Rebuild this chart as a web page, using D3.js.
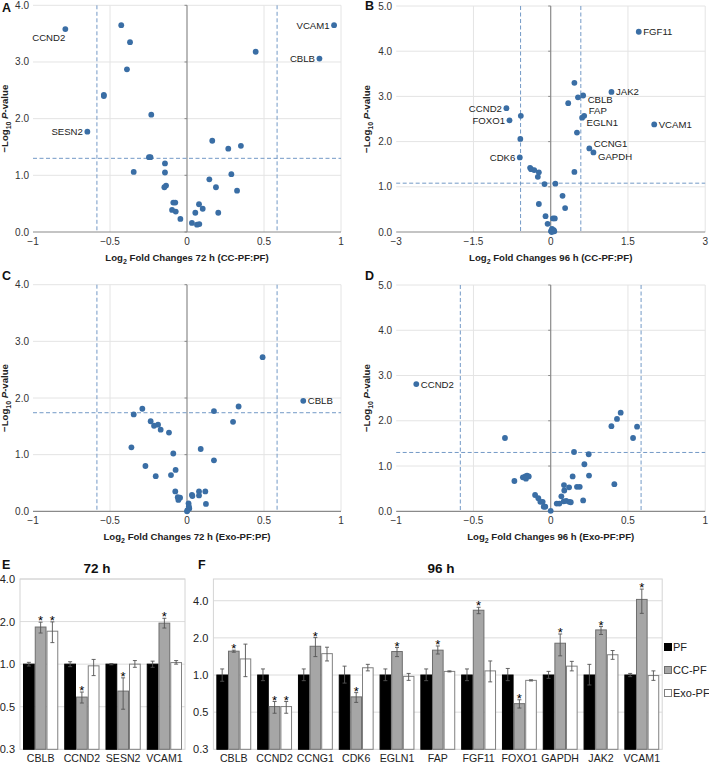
<!DOCTYPE html>
<html><head><meta charset="utf-8">
<script src="https://cdn.jsdelivr.net/npm/d3@7"></script>
<style>
html,body{margin:0;padding:0;background:#fff;}
svg{display:block;font-family:"Liberation Sans",Arial,sans-serif;}
</style></head>
<body>
<svg id="chart" width="709" height="763"></svg>
<script>
// ---------- DATA ----------
// Panel A: 72 h CC-PF:PF
const aGenes = ["CCND2","SESN2","VCAM1","CBLB","","","","","","","","","","","","","","","","","","","","","","","","","","","","","","","","","",""];
const aX = [-0.79,-0.647,0.955,0.86,-0.427,-0.37,-0.39,-0.54,-0.54,-0.232,0.446,0.164,0.268,0.35,-0.247,-0.237,-0.143,-0.346,-0.143,-0.136,-0.147,-0.089,-0.076,-0.097,-0.073,-0.043,0.032,0.065,0.08,0.054,0.078,0.102,0.203,0.145,0.188,0.288,0.325];
const aY = [3.58,1.77,3.65,3.06,3.65,3.35,2.87,2.42,2.40,2.07,3.18,1.61,1.47,1.52,1.32,1.32,1.21,1.06,1.05,0.82,0.79,0.52,0.52,0.39,0.36,0.23,0.16,0.13,0.14,0.34,0.49,0.41,0.34,0.93,0.79,1.02,0.73];
const aSide = ["bl","l","l","l"];

// Panel B: 96 h CC-PF:PF
const bGenes = ["FGF11","JAK2","CBLB","CCND2","FOXO1","FAP","EGLN1","VCAM1","CCNG1","GAPDH","CDK6"];
const bX = [1.71,1.18,0.63,-0.86,-0.80,0.65,0.61,2.01,0.75,0.83,-0.60,0.46,0.53,0.34,-0.58,0.51,-0.59,-0.40,-0.38,-0.32,-0.23,-0.25,0.46,-0.12,0.09,0.23,0.28,-0.23,-0.10,0.045,0.08,-0.06,0.025,0.06,0.005,0.07,0.02];
const bY = [4.43,3.10,3.02,2.74,2.47,2.57,2.53,2.38,1.85,1.76,1.65,3.30,2.98,2.85,2.57,2.20,2.06,1.42,1.39,1.37,1.32,1.22,1.33,1.06,1.07,0.80,0.53,0.62,0.35,0.30,0.30,0.18,0.07,0.04,0.02,0.015,0.0];
const bSide = ["r","r","br","l","l","ar","br","r","ar","br","l"];

// Panel C: 72 h Exo-PF:PF
const cGenes = ["CBLB"];
const cX = [0.755,0.491,0.335,0.175,0.299,-0.29,-0.346,-0.236,-0.188,-0.214,-0.171,-0.117,-0.361,0.089,-0.089,0.175,-0.27,-0.074,-0.104,-0.203,-0.076,0.078,0.119,0.032,0.035,0.078,-0.06,-0.045,-0.056,0.123,0.01,0.012,0.015,0.003,0.0];
const cY = [1.95,2.72,1.85,1.77,1.58,1.81,1.71,1.59,1.53,1.51,1.44,1.39,1.13,1.10,1.02,0.90,0.80,0.73,0.64,0.62,0.35,0.35,0.35,0.29,0.27,0.28,0.25,0.24,0.20,0.13,0.14,0.09,0.05,0.02,0.0];
const cSide = ["r"];

// Panel D: 96 h Exo-PF:PF
const dGenes = ["CCND2"];
const dX = [-0.87,-0.296,0.453,0.429,0.393,0.559,0.533,0.151,0.246,0.218,0.142,0.248,0.412,-0.18,-0.164,-0.153,-0.142,-0.16,-0.235,0.086,0.119,0.088,0.17,0.188,0.069,-0.101,-0.08,-0.067,-0.052,-0.035,-0.045,0.0,0.039,0.056,0.084,0.1,0.12,0.13,0.21];
const dY = [2.81,1.62,2.18,2.04,1.88,1.87,1.62,1.31,1.26,1.04,0.77,0.79,0.60,0.75,0.77,0.79,0.77,0.72,0.67,0.58,0.53,0.46,0.54,0.54,0.33,0.36,0.29,0.21,0.21,0.10,0.10,0.01,0.17,0.17,0.22,0.23,0.21,0.20,0.24];
const dSide = ["r"];

// thresholds
const fcCut = 0.585;
const pCutA = 1.30, pCutB = 1.08, pCutC = 1.74, pCutD = 1.30;

// Ticks
const xTicks72 = [-1,-0.5,0,0.5,1];
const xTicks96B = [-3,-1.5,0,1.5,3];
const yTicks4 = [0,1,2,3,4];
const yTicks5 = [0,1,2,3,4,5];

// Panel E: 72 h qPCR (relative expression)
const eGenes = ["CBLB","CCND2","SESN2","VCAM1"];
const ePF = [1,1,1,1];
const ePFLo = [0.97,0.96,0.99,0.95];
const ePFHi = [1.03,1.04,1.01,1.05];
const eCC = [1.83,0.585,0.645,1.95];
const eCCLo = [1.66,0.531,0.48,1.80];
const eCCHi = [1.98,0.635,0.80,2.11];
const eEx = [1.71,0.973,1.0,1.026];
const eExLo = [1.42,0.83,0.95,1.0];
const eExHi = [1.99,1.08,1.06,1.06];
const eCCSig = [1,1,1,1];
const eExSig = [1,0,0,0];

// Panel F: 96 h qPCR
const fGenes = ["CBLB","CCND2","CCNG1","CDK6","EGLN1","FAP","FGF11","FOXO1","GAPDH","JAK2","VCAM1"];
const fPF = [1,1,1,1,1,1,1,1,1,1,1];
const fPFLo = [0.89,0.9,0.9,0.86,0.9,0.9,0.9,0.9,0.94,0.83,0.97];
const fPFHi = [1.12,1.12,1.12,1.18,1.12,1.12,1.12,1.13,1.07,1.22,1.03];
const fCC = [1.56,0.555,1.71,0.665,1.55,1.59,3.35,0.586,1.81,2.32,4.1];
const fCCLo = [1.53,0.49,1.41,0.60,1.41,1.48,3.14,0.54,1.43,2.13,3.16];
const fCCHi = [1.59,0.61,2.01,0.72,1.67,1.72,3.54,0.63,2.15,2.47,4.97];
const fEx = [1.35,0.555,1.49,1.145,0.975,1.07,1.08,0.905,1.18,1.46,0.99];
const fExLo = [0.97,0.49,1.30,1.08,0.905,1.06,0.88,0.895,1.08,1.34,0.905];
const fExHi = [1.78,0.61,1.68,1.22,1.03,1.08,1.30,0.915,1.29,1.58,1.08];
const fCCSig = [1,1,1,1,1,1,1,1,1,1,1];
const fExSig = [0,1,0,0,0,0,0,0,0,0,0];

const barTicks = [0.25,0.5,1,2,4];
const seriesNames = ["PF","CC-PF","Exo-PF"];

// ---------- DRAWING ----------
const svg = d3.select("#chart");
const dotColor = "#3a6ea5", dashColor = "#7399c6", gridColor = "#e4e4e4", axisColor = "#8a8a8a";

function volcano(o) {
  const g = svg.append("g");
  const x = d3.scaleLinear().domain(o.xDomain).range([o.left, o.right]);
  const y = d3.scaleLinear().domain(o.yDomain).range([o.bottom, o.top]);
  g.selectAll(".gy").data(o.yTicks.filter(t => t > 0)).join("line")
    .attr("x1", o.left).attr("x2", o.right).attr("y1", d => y(d)).attr("y2", d => y(d))
    .attr("stroke", gridColor).attr("stroke-width", 1);
  g.selectAll(".gx").data(o.xTicks.filter((t, i) => i > 0 && t !== 0)).join("line")
    .attr("x1", d => x(d)).attr("x2", d => x(d)).attr("y1", o.top).attr("y2", o.bottom)
    .attr("stroke", gridColor).attr("stroke-width", 1);
  g.append("line").attr("x1", o.left).attr("x2", o.right).attr("y1", y(0)).attr("y2", y(0))
    .attr("stroke", axisColor).attr("stroke-width", 1.2);
  g.append("line").attr("x1", x(0)).attr("x2", x(0)).attr("y1", o.top).attr("y2", o.bottom)
    .attr("stroke", axisColor).attr("stroke-width", 1.2);
  g.selectAll(".yt").data(o.yTicks).join("line")
    .attr("x1", x(0) - 2.5).attr("x2", x(0)).attr("y1", d => y(d)).attr("y2", d => y(d))
    .attr("stroke", axisColor);
  [-fcCut, fcCut].forEach(v => g.append("line")
    .attr("x1", x(v)).attr("x2", x(v)).attr("y1", o.top).attr("y2", o.bottom)
    .attr("stroke", dashColor).attr("stroke-width", 1).attr("stroke-dasharray", "4,2.5"));
  g.append("line").attr("x1", o.left).attr("x2", o.right).attr("y1", y(o.pCut)).attr("y2", y(o.pCut))
    .attr("stroke", dashColor).attr("stroke-width", 1).attr("stroke-dasharray", "4,2.5");
  g.selectAll(".yl").data(o.yTicks).join("text")
    .attr("x", o.left - 4).attr("y", d => y(d) + 3.5).attr("text-anchor", "end")
    .attr("font-size", 10).attr("fill", "#333").text(d => d3.format(".1f")(d));
  g.selectAll(".xl").data(o.xTicks).join("text")
    .attr("x", d => x(d)).attr("y", y(0) + 12.5).attr("text-anchor", "middle")
    .attr("font-size", 10).attr("fill", "#333")
    .text(d => d === 0 ? "0" : (d < 0 ? "\u2212" + Math.abs(d) : String(d)));
  const pts = o.xs.map((v, i) => ({x: v, y: o.ys[i], gene: o.genes[i] || "", side: o.sides[i]}));
  g.selectAll(".pt").data(pts).join("circle")
    .attr("cx", d => x(d.x)).attr("cy", d => y(d.y)).attr("r", 2.9).attr("fill", dotColor);
  const lab = pts.filter(d => d.gene);
  g.selectAll(".lb").data(lab).join("text")
    .attr("x", d => x(d.x) + (d.side === "l" ? -4.5 : d.side === "bl" ? 0 : 4.5))
    .attr("y", d => y(d.y) + 3.5 + (d.side === "br" ? 4.5 : d.side === "ar" ? -5 : d.side === "bl" ? 8.5 : 0))
    .attr("text-anchor", d => (d.side === "l" || d.side === "bl") ? "end" : "start")
    .attr("font-size", 9.6).attr("fill", "#222").text(d => d.gene);
  const xt = g.append("text").attr("x", (o.left + o.right) / 2).attr("y", o.bottom + 29)
    .attr("text-anchor", "middle").attr("font-size", 9.6).attr("font-weight", "bold").attr("fill", "#222");
  xt.append("tspan").text("Log");
  xt.append("tspan").attr("font-size", 7).attr("dy", 2.5).text("2");
  xt.append("tspan").attr("dy", -2.5).text(" Fold Changes " + o.xTitle);
  const yt = g.append("text").attr("transform", `translate(${o.yTitleX},${(o.top + o.bottom) / 2}) rotate(-90)`)
    .attr("text-anchor", "middle").attr("font-size", 9.6).attr("font-weight", "bold").attr("fill", "#222");
  yt.append("tspan").text("\u2212Log");
  yt.append("tspan").attr("font-size", 7).attr("dy", 2.5).text("10");
  yt.append("tspan").attr("dy", -2.5).text(" ");
  yt.append("tspan").attr("font-style", "italic").text("P");
  yt.append("tspan").text("-value");
  svg.append("text").attr("x", o.letterX).attr("y", o.letterY).attr("font-size", 12.5)
    .attr("font-weight", "bold").attr("fill", "#111").text(o.letter);
}

volcano({letter: "A", letterX: 2, letterY: 11.5, left: 33, right: 341, top: 5.3, bottom: 232,
  xDomain: [-1, 1], yDomain: [0, 4], xTicks: xTicks72, yTicks: yTicks4, pCut: pCutA,
  xs: aX, ys: aY, genes: aGenes, sides: aSide, xTitle: "72 h (CC-PF:PF)", yTitleX: 8});
volcano({letter: "B", letterX: 365, letterY: 9.5, left: 396.2, right: 705.2, top: 6, bottom: 232,
  xDomain: [-3, 3], yDomain: [0, 5], xTicks: xTicks96B, yTicks: yTicks5, pCut: pCutB,
  xs: bX, ys: bY, genes: bGenes, sides: bSide, xTitle: "96 h (CC-PF:PF)", yTitleX: 370});
volcano({letter: "C", letterX: 2, letterY: 280, left: 33, right: 341, top: 284.7, bottom: 511.3,
  xDomain: [-1, 1], yDomain: [0, 4], xTicks: xTicks72, yTicks: yTicks4, pCut: pCutC,
  xs: cX, ys: cY, genes: cGenes, sides: cSide, xTitle: "72 h (Exo-PF:PF)", yTitleX: 8});
volcano({letter: "D", letterX: 365, letterY: 280, left: 396.2, right: 705.2, top: 285, bottom: 511.3,
  xDomain: [-1, 1], yDomain: [0, 5], xTicks: xTicks72, yTicks: yTicks5, pCut: pCutD,
  xs: dX, ys: dY, genes: dGenes, sides: dSide, xTitle: "96 h (Exo-PF:PF)", yTitleX: 370});

// ---------- BAR PANELS ----------
const barFill = ["#000000", "#a6a6a6", "#ffffff"];
const barStroke = ["#000000", "#6e6e6e", "#808080"];

function barPanel(o) {
  const g = svg.append("g");
  const x = d3.scaleBand().domain(o.genes).range([o.left, o.right]).padding(0);
  const y = d3.scaleLog().base(2).domain(o.yDomain).range([o.bottom, o.top]);
  g.selectAll(".gy").data(barTicks.filter(t => t > o.yDomain[0])).join("line")
    .attr("x1", o.left).attr("x2", o.right).attr("y1", d => y(d)).attr("y2", d => y(d))
    .attr("stroke", "#dcdcdc").attr("stroke-width", 1);
  g.append("rect").attr("x", o.left).attr("y", o.top).attr("width", o.right - o.left)
    .attr("height", o.bottom - o.top).attr("fill", "none").attr("stroke", "#d4d4d4");
  const bw = x.bandwidth() * 0.285;
  const series = [
    {vals: o.pf, lo: o.pfLo, hi: o.pfHi, sig: null},
    {vals: o.cc, lo: o.ccLo, hi: o.ccHi, sig: o.ccSig},
    {vals: o.ex, lo: o.exLo, hi: o.exHi, sig: o.exSig}];
  series.forEach((s, k) => {
    const data = o.genes.map((gn, i) => ({gn, v: s.vals[i], lo: s.lo[i], hi: s.hi[i], sig: s.sig ? s.sig[i] : 0}));
    const cx = d => x(d.gn) + x.bandwidth() / 2 + (k - 1) * bw;
    g.selectAll(".b" + k).data(data).join("rect")
      .attr("x", d => cx(d) - bw / 2 + 0.5).attr("width", bw - 1)
      .attr("y", d => y(d.v)).attr("height", d => o.bottom - y(d.v))
      .attr("fill", barFill[k]).attr("stroke", barStroke[k]).attr("stroke-width", 1);
    g.selectAll(".e" + k).data(data).join("path")
      .attr("d", d => `M${cx(d)},${y(d.lo)}V${y(d.hi)}M${cx(d) - 2},${y(d.lo)}H${cx(d) + 2}M${cx(d) - 2},${y(d.hi)}H${cx(d) + 2}`)
      .attr("stroke", "#555").attr("stroke-width", 0.9).attr("fill", "none");
    g.selectAll(".s" + k).data(data.filter(d => d.sig)).join("text")
      .attr("x", d => cx(d)).attr("y", d => y(d.hi) + 3).attr("text-anchor", "middle")
      .attr("font-size", 13).attr("fill", "#000").text("*");
  });
  g.selectAll(".yl").data(barTicks).join("text")
    .attr("x", o.left - 5).attr("y", d => y(d) + 4).attr("text-anchor", "end")
    .attr("font-size", 11).attr("fill", "#222").text(d => d3.format(".1f")(d));
  g.selectAll(".xl").data(o.genes).join("text")
    .attr("x", d => x(d) + x.bandwidth() / 2).attr("y", o.bottom + 13).attr("text-anchor", "middle")
    .attr("font-size", 10.6).attr("fill", "#222").text(d => d);
  g.append("text").attr("x", o.titleX).attr("y", 573).attr("text-anchor", "middle")
    .attr("font-size", 13.5).attr("font-weight", "bold").attr("fill", "#111").text(o.title);
  svg.append("text").attr("x", o.letterX).attr("y", 569).attr("font-size", 12.5)
    .attr("font-weight", "bold").attr("fill", "#111").text(o.letter);
}

barPanel({letter: "E", letterX: 2, title: "72 h", titleX: 97, left: 20, right: 185, top: 579, bottom: 749.3,
  yDomain: [0.25, 4], genes: eGenes, pf: ePF, pfLo: ePFLo, pfHi: ePFHi, cc: eCC, ccLo: eCCLo, ccHi: eCCHi,
  ex: eEx, exLo: eExLo, exHi: eExHi, ccSig: eCCSig, exSig: eExSig});
barPanel({letter: "F", letterX: 198, title: "96 h", titleX: 441, left: 213.4, right: 662.2, top: 579, bottom: 749.3,
  yDomain: [0.25, 6], genes: fGenes, pf: fPF, pfLo: fPFLo, pfHi: fPFHi, cc: fCC, ccLo: fCCLo, ccHi: fCCHi,
  ex: fEx, exLo: fExLo, exHi: fExHi, ccSig: fCCSig, exSig: fExSig});

// legend
const lg = svg.append("g");
const lgY = d3.scalePoint().domain(seriesNames).range([647, 693]);
lg.selectAll("rect").data(seriesNames).join("rect")
  .attr("x", 664.5).attr("y", d => lgY(d) - 3.5).attr("width", 7).attr("height", 7)
  .attr("fill", (d, i) => barFill[i]).attr("stroke", (d, i) => barStroke[i]);
lg.selectAll("text").data(seriesNames).join("text")
  .attr("x", 673).attr("y", d => lgY(d) + 4).attr("font-size", 11).attr("fill", "#222").text(d => d);
</script>
</body></html>
